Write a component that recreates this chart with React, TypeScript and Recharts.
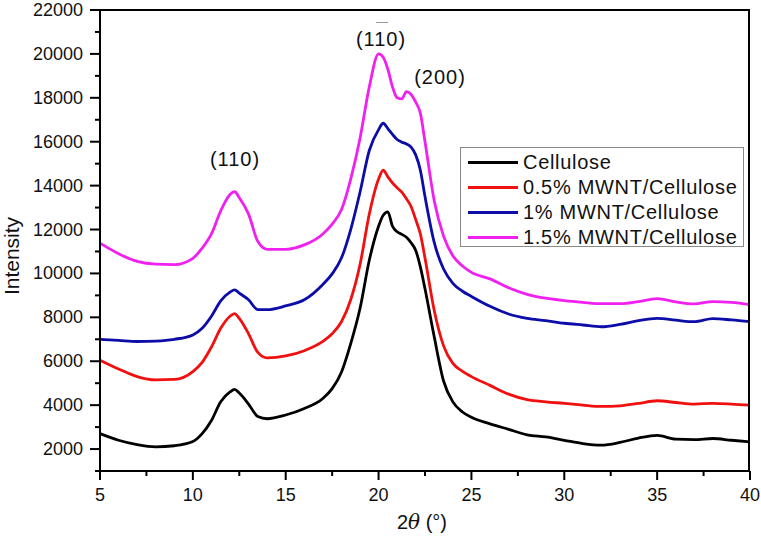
import { LineChart, Line, XAxis, YAxis } from "recharts";

// 2θ positions (degrees) and intensities
const twoTheta = [
  5, 6, 7, 8, 9, 10, 10.5, 11, 11.5, 12, 12.25, 12.5, 13, 13.5, 14, 15, 16, 17, 17.5, 18,
  18.5, 19, 19.5, 20, 20.25, 20.5, 20.75, 21, 21.25, 21.5, 21.75, 22, 22.25, 22.5, 23, 23.5,
  24, 24.5, 25, 26, 27, 28, 29, 30, 31, 32, 33, 34, 35, 36, 37, 38, 39, 40,
];

const cellulose = [
  2700, 2400, 2200, 2100, 2150, 2340, 2700, 3300, 4150, 4600, 4720, 4550, 4050, 3480, 3380,
  3550, 3850, 4300, 4750, 5500, 6800, 8400, 10600, 12150, 12650, 12800, 12150, 11900, 11780,
  11650, 11400, 11050, 10300, 9300, 7100, 5100, 4150, 3700, 3450, 3150, 2900, 2650, 2550,
  2400, 2250, 2180, 2300, 2500, 2620, 2450, 2430, 2480, 2400, 2330,
];

const mwnt05 = [
  6050, 5650, 5300, 5150, 5170, 5530, 5950, 6650, 7500, 8050, 8170, 7950, 7250, 6400, 6150,
  6240, 6480, 6900, 7250, 7800, 8800, 10400, 12700, 14300, 14700, 14400, 14120, 13900, 13700,
  13400, 13050, 12450, 11800, 10700, 8300, 6700, 5900, 5550, 5300, 4900, 4500, 4250, 4150,
  4080, 4000, 3940, 3970, 4080, 4200, 4120, 4050, 4080, 4050, 4000,
];

const mwnt1 = [
  7000, 6950, 6900, 6920, 7000, 7200, 7500, 8050, 8750, 9150, 9250, 9100, 8800, 8350, 8350,
  8520, 8800, 9500, 9980, 10700, 12000, 13700, 15600, 16550, 16840, 16600, 16330, 16100,
  15980, 15900, 15750, 15400, 14700, 13500, 11400, 10200, 9550, 9200, 8950, 8500, 8150, 7950,
  7850, 7730, 7650, 7570, 7680, 7850, 7950, 7870, 7800, 7940, 7880, 7800,
];

const mwnt15 = [
  11380, 10900, 10550, 10420, 10400, 10690, 11150, 11800, 12850, 13600, 13720, 13450, 12700,
  11450, 11100, 11100, 11300, 11800, 12250, 12900, 14300, 16150, 18500, 20000, 19850, 19300,
  18500, 18000, 17950, 18280, 18150, 17800, 17300, 16000, 13300, 11700, 10800, 10350, 10050,
  9750, 9350, 9050, 8870, 8760, 8680, 8620, 8620, 8720, 8850, 8700, 8610, 8720, 8680, 8580,
];

const xTicks = [5, 7.5, 10, 12.5, 15, 17.5, 20, 22.5, 25, 27.5, 30, 32.5, 35, 37.5, 40];
const yTicks = [
  1000, 2000, 3000, 4000, 5000, 6000, 7000, 8000, 9000, 10000, 11000, 12000, 13000, 14000,
  15000, 16000, 17000, 18000, 19000, 20000, 21000, 22000,
];

const series = [
  { key: "cellulose", name: "Cellulose", color: "#000000", values: cellulose },
  { key: "mwnt05", name: "0.5% MWNT/Cellulose", color: "#f01010", values: mwnt05 },
  { key: "mwnt1", name: "1% MWNT/Cellulose", color: "#0c0ca8", values: mwnt1 },
  { key: "mwnt15", name: "1.5% MWNT/Cellulose", color: "#f020f0", values: mwnt15 },
];

const data = twoTheta.map((x, i) => {
  const row: Record<string, number> = { x };
  series.forEach((s) => (row[s.key] = s.values[i]));
  return row;
});

const FONT = "'Liberation Sans', Arial, sans-serif";

function YTick({ x, y, payload }: any) {
  const major = payload.value % 2000 === 0;
  return (
    <g>
      <line x1={x - (major ? 10 : 5)} x2={x} y1={y} y2={y} stroke="#000" strokeWidth={2} />
      {major && (
        <text x={x - 17} y={y} dy={6} textAnchor="end" fontSize={18} fontFamily={FONT} fill="#111">
          {payload.value}
        </text>
      )}
    </g>
  );
}

function XTick({ x, y, payload }: any) {
  const major = payload.value % 5 === 0;
  return (
    <g>
      <line x1={x} x2={x} y1={y} y2={y + (major ? 9 : 5)} stroke="#000" strokeWidth={2} />
      {major && (
        <text x={x} y={y + 30} textAnchor="middle" fontSize={18} fontFamily={FONT} fill="#111">
          {payload.value}
        </text>
      )}
    </g>
  );
}

const annoStyle = {
  position: "absolute" as const,
  fontFamily: FONT,
  fontSize: 20,
  letterSpacing: 1,
  color: "#111",
  transform: "translate(-50%, -50%)",
  whiteSpace: "nowrap" as const,
};

export default function App() {
  return (
    <div style={{ position: "absolute", left: 0, top: 0, width: 761, height: 539, background: "#fff" }}>
      <LineChart width={761} height={539} data={data} margin={{ top: 10, right: 11, left: 0, bottom: 0 }}>
        <XAxis
          dataKey="x"
          type="number"
          domain={[5, 40]}
          ticks={xTicks}
          interval={0}
          tick={<XTick />}
          tickSize={0}
          tickMargin={0}
          tickLine={false}
          height={68}
          axisLine={{ stroke: "#000", strokeWidth: 2 }}
        />
        <YAxis
          type="number"
          domain={[1000, 22000]}
          ticks={yTicks}
          interval={0}
          tick={<YTick />}
          tickSize={0}
          tickMargin={0}
          tickLine={false}
          width={100}
          axisLine={{ stroke: "#000", strokeWidth: 2 }}
        />
        {series.map((s) => (
          <Line
            key={s.key}
            dataKey={s.key}
            name={s.name}
            type="monotone"
            stroke={s.color}
            strokeWidth={2.8}
            dot={false}
            isAnimationActive={false}
          />
        ))}
      </LineChart>

      {/* top and right frame lines */}
      <div
        style={{
          position: "absolute",
          left: 100,
          top: 9,
          width: 650,
          height: 462,
          borderTop: "2px solid #000",
          borderRight: "2px solid #000",
          boxSizing: "border-box",
          pointerEvents: "none",
        }}
      />

      {/* axis titles */}
      <div
        style={{
          position: "absolute",
          left: 12,
          top: 256,
          transform: "translate(-50%, -50%) rotate(-90deg)",
          fontFamily: FONT,
          fontSize: 21,
          color: "#111",
          whiteSpace: "nowrap",
        }}
      >
        Intensity
      </div>
      <div style={{ ...annoStyle, left: 422, top: 522, letterSpacing: 0 }}>
        2<i style={{ fontFamily: "'DejaVu Serif', serif" }}>θ</i> (°)
      </div>

      {/* peak annotations */}
      <div style={{ ...annoStyle, left: 235, top: 159 }}>(110)</div>
      <div style={{ ...annoStyle, left: 381, top: 39 }}>(110)</div>
      <div style={{ position: "absolute", left: 376, top: 22, width: 12, height: 1, background: "#999" }} />
      <div style={{ ...annoStyle, left: 440, top: 77 }}>(200)</div>

      {/* legend */}
      <div
        style={{
          position: "absolute",
          left: 460,
          top: 147,
          width: 284,
          height: 100,
          border: "1px solid #8a8a8a",
          background: "#fff",
          boxSizing: "border-box",
        }}
      >
        {series.map((s, i) => (
          <div
            key={s.key}
            style={{
              position: "absolute",
              left: 7,
              top: 2 + i * 25,
              height: 25,
              display: "flex",
              alignItems: "center",
              fontFamily: FONT,
              fontSize: 20,
              letterSpacing: 0.7,
              color: "#111",
              whiteSpace: "nowrap",
            }}
          >
            <span style={{ display: "inline-block", width: 50, height: 3, background: s.color, marginRight: 5 }} />
            {s.name}
          </div>
        ))}
      </div>
    </div>
  );
}
